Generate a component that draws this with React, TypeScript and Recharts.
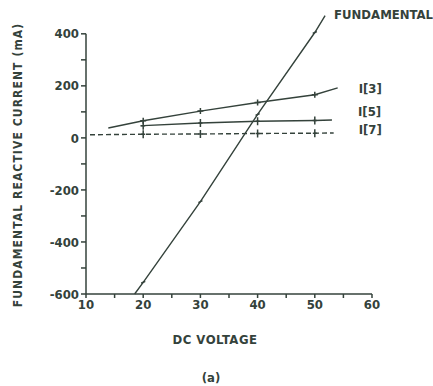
import React from 'react';
import { LineChart, Line, XAxis, YAxis, ReferenceLine } from 'recharts';

// minor ticks every 5 V / 100 mA, labels only on the majors
const voltageTicks = [10, 15, 20, 25, 30, 35, 40, 45, 50, 55, 60];
const currentTicks = [-600, -500, -400, -300, -200, -100, 0, 100, 200, 300, 400];

const fundamentalV = [18.5, 20, 30, 40, 50, 51.8];
const fundamentalI = [-600, -555, -245, 90, 405, 470];
const i3V = [13.9, 20, 30, 40, 50, 54];
const i3I = [38, 66, 103, 136, 166, 192];
const i5V = [19.5, 20, 30, 40, 50, 53];
const i5I = [46, 47, 57, 64, 67, 69];
const i7V = [10.7, 20, 30, 40, 50, 53.3];
const i7I = [12, 14, 15, 17, 18, 19];

const INK = '#34423b';
const FONT = '"DejaVu Sans Condensed", "Liberation Sans Narrow", sans-serif';

const toRows = (vs: number[], is: number[]) => vs.map((v, k) => ({ v, i: is[k] }));

const fundamental = toRows(fundamentalV, fundamentalI);
const i3 = toRows(i3V, i3I);
const i5 = toRows(i5V, i5I);
const i7 = toRows(i7V, i7I);

// markers only on the measured points, not on the line ends
const marker = (kind: 'cross' | 'bar' | 'tiny', last: number) => (props: any) => {
  const { cx, cy, index } = props;
  if (index === 0 || index === last || cx == null) return <g key={`m-${index}`} />;
  let d = '';
  if (kind === 'cross') d = `M${cx - 3},${cy} L${cx + 3},${cy} M${cx},${cy - 3} L${cx},${cy + 3}`;
  else if (kind === 'bar') d = `M${cx},${cy - 4} L${cx},${cy + 4} M${cx - 2},${cy} L${cx + 2},${cy}`;
  else d = `M${cx - 2},${cy + 1} L${cx + 2},${cy - 1}`;
  return <path key={`m-${index}`} d={d} stroke={INK} strokeWidth={1.5} fill="none" />;
};

const endLabel = (text: string, last: number, dx: number, dy: number) => (props: any) => {
  const { x, y, index } = props;
  if (index !== last) return null;
  return (
    <text
      x={x + dx}
      y={y + dy}
      dominantBaseline="middle"
      fill={INK}
      fontFamily={FONT}
      fontWeight="bold"
      fontSize={13}
    >
      {text}
    </text>
  );
};

const tickStyle = { fill: INK, fontFamily: FONT, fontWeight: 'bold', fontSize: 13 } as const;

export default function App() {
  return (
    <div style={{ position: 'absolute', left: 0, top: 0, width: 433, height: 386, background: '#fff' }}>
      <LineChart width={433} height={386} margin={{ top: 13, right: 61, bottom: 62, left: 46 }}>
        <XAxis
          type="number"
          dataKey="v"
          domain={[10, 60]}
          ticks={voltageTicks}
          tickFormatter={(t: number) => (t % 10 === 0 ? String(t) : '')}
          interval={0}
          height={30}
          stroke={INK}
          strokeWidth={1.5}
          tickSize={4}
          tick={tickStyle}
          allowDuplicatedCategory={false}
        />
        <YAxis
          type="number"
          dataKey="i"
          domain={[-600, 480]}
          ticks={currentTicks}
          tickFormatter={(t: number) => (t % 200 === 0 ? String(t) : '')}
          interval={0}
          width={40}
          axisLine={false}
          tickLine={{ stroke: INK, strokeWidth: 1.5 }}
          tickSize={5}
          tick={tickStyle}
        />
        <ReferenceLine
          segment={[{ x: 10, y: -600 }, { x: 10, y: 400 }]}
          stroke={INK}
          strokeWidth={1.5}
        />
        <Line
          data={fundamental}
          dataKey="i"
          stroke={INK}
          strokeWidth={1.4}
          dot={marker('tiny', fundamental.length - 1)}
          label={endLabel('FUNDAMENTAL', fundamental.length - 1, 9, 0)}
          isAnimationActive={false}
        />
        <Line
          data={i3}
          dataKey="i"
          stroke={INK}
          strokeWidth={1.4}
          dot={marker('cross', i3.length - 1)}
          label={endLabel('I[3]', i3.length - 1, 21, 2)}
          isAnimationActive={false}
        />
        <Line
          data={i5}
          dataKey="i"
          stroke={INK}
          strokeWidth={1.4}
          dot={marker('bar', i5.length - 1)}
          label={endLabel('I[5]', i5.length - 1, 26, -7)}
          isAnimationActive={false}
        />
        <Line
          data={i7}
          dataKey="i"
          stroke={INK}
          strokeWidth={1.4}
          strokeDasharray="5 3"
          dot={marker('bar', i7.length - 1)}
          label={endLabel('I[7]', i7.length - 1, 25, -2)}
          isAnimationActive={false}
        />
      </LineChart>
      <div
        style={{
          position: 'absolute',
          left: 18,
          top: 165,
          transform: 'translate(-50%, -50%) rotate(-90deg)',
          whiteSpace: 'nowrap',
          color: INK,
          fontFamily: FONT,
          fontWeight: 'bold',
          fontSize: 12,
          letterSpacing: 1.1,
        }}
      >
        FUNDAMENTAL REACTIVE CURRENT (mA)
      </div>
      <div
        style={{
          position: 'absolute',
          left: 215,
          top: 339,
          transform: 'translate(-50%, -50%)',
          whiteSpace: 'nowrap',
          color: INK,
          fontFamily: FONT,
          fontWeight: 'bold',
          fontSize: 13,
          letterSpacing: 0.5,
        }}
      >
        DC VOLTAGE
      </div>
      <div
        style={{
          position: 'absolute',
          left: 211,
          top: 377,
          transform: 'translate(-50%, -50%)',
          color: INK,
          fontFamily: FONT,
          fontWeight: 'bold',
          fontSize: 13,
        }}
      >
        (a)
      </div>
    </div>
  );
}
